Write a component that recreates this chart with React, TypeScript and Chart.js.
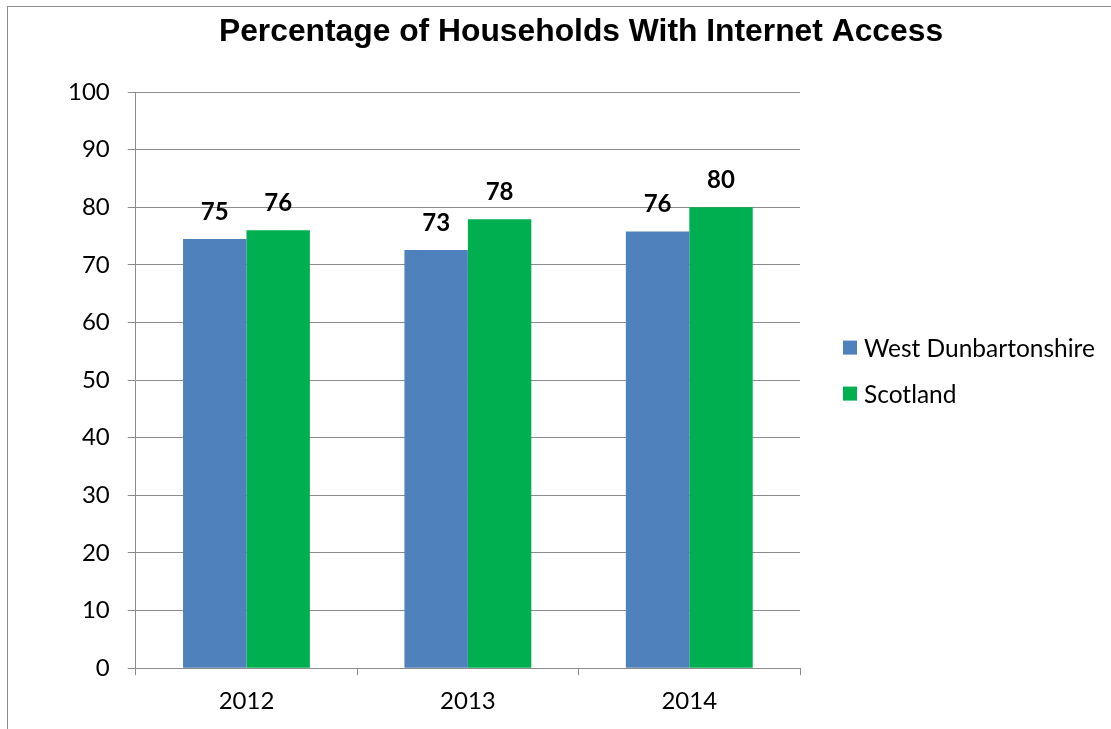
import React, { useEffect, useRef } from "react";
import { Chart, registerables } from "chart.js";

Chart.register(...registerables);

const categories = ["2012", "2013", "2014"];
const westDunbartonshire = [74.5, 72.6, 75.8];
const scotland = [76, 77.9, 80];
const seriesNames = ["West Dunbartonshire", "Scotland"];
const seriesColors = ["#4F81BD", "#00B050"];
const yTicks = [0, 10, 20, 30, 40, 50, 60, 70, 80, 90, 100];
const titleText = "Percentage of Households With Internet Access";

const GRID = "#8C8C8C";
const FONT = "Lato, 'Open Sans', sans-serif";

const extrasPlugin = {
  id: "extras",
  afterDatasetsDraw(chart: any) {
    const ctx = chart.ctx;
    ctx.save();
    ctx.fillStyle = "#000";
    ctx.font = `bold 24px ${FONT}`;
    ctx.textAlign = "center";
    ctx.textBaseline = "middle";
    chart.data.datasets.forEach((ds: any, di: number) => {
      const meta = chart.getDatasetMeta(di);
      meta.data.forEach((bar: any, i: number) => {
        ctx.fillText(String(Math.round(ds.data[i])), bar.x, bar.y - 27);
      });
    });
    ctx.restore();
  },
  afterDraw(chart: any) {
    const ctx = chart.ctx;
    const area = chart.chartArea;
    ctx.save();
    // title
    ctx.fillStyle = "#000";
    ctx.font = `bold 31.8px 'Liberation Sans', Arial, sans-serif`;
    ctx.textAlign = "center";
    ctx.textBaseline = "alphabetic";
    ctx.fillText(titleText, 581, 41);
    // legend
    ctx.font = `24.5px ${FONT}`;
    ctx.textAlign = "left";
    ctx.textBaseline = "middle";
    const lx = area.right + 43;
    const midY = (area.top + area.bottom) / 2 - 9.5;
    const spacing = 46;
    const n = chart.data.datasets.length;
    chart.data.datasets.forEach((ds: any, i: number) => {
      const cy = midY + (i - (n - 1) / 2) * spacing;
      ctx.fillStyle = ds.backgroundColor;
      ctx.fillRect(lx, cy - 7, 14, 14);
      ctx.fillStyle = "#000";
      ctx.fillText(ds.label, lx + 21, cy + 1);
    });
    ctx.restore();
  },
};

export default function App() {
  const ref = useRef<HTMLCanvasElement>(null);
  useEffect(() => {
    if (!ref.current) return;
    const chart = new Chart(ref.current, {
      type: "bar",
      data: {
        labels: categories,
        datasets: [
          {
            label: seriesNames[0],
            data: westDunbartonshire,
            backgroundColor: seriesColors[0],
            categoryPercentage: 0.573,
            barPercentage: 1,
          },
          {
            label: seriesNames[1],
            data: scotland,
            backgroundColor: seriesColors[1],
            categoryPercentage: 0.573,
            barPercentage: 1,
          },
        ],
      },
      options: {
        animation: false,
        responsive: false,
        maintainAspectRatio: false,
        layout: { padding: { top: 92, left: 50, right: 311, bottom: 1 } },
        plugins: { legend: { display: false }, title: { display: false }, tooltip: { enabled: false } },
        scales: {
          x: {
            grid: {
              display: true,
              drawOnChartArea: false,
              drawTicks: true,
              tickLength: 7,
              color: GRID,
              offset: true,
            },
            border: { display: true, color: GRID, width: 1 },
            ticks: { color: "#000", font: { family: FONT, size: 24 }, padding: 12 },
          },
          y: {
            min: 0,
            max: 100,
            afterBuildTicks(scale: any) {
              scale.ticks = yTicks.map((v) => ({ value: v }));
            },
            grid: { color: GRID, tickLength: 8, drawTicks: true },
            border: { display: true, color: GRID, width: 1 },
            ticks: { color: "#000", font: { family: FONT, size: 24 }, padding: 18 },
          },
        },
      },
      plugins: [extrasPlugin],
    });
    return () => chart.destroy();
  }, []);
  return (
    <div>
      <div
        style={{
          position: "fixed",
          left: 7,
          top: 6,
          width: 1120,
          height: 740,
          border: "1px solid #8C8C8C",
          boxSizing: "border-box",
        }}
      />
      <canvas
        ref={ref}
        width={1111}
        height={729}
        style={{ position: "fixed", left: 0, top: 0, width: 1111, height: 729 }}
      />
    </div>
  );
}
